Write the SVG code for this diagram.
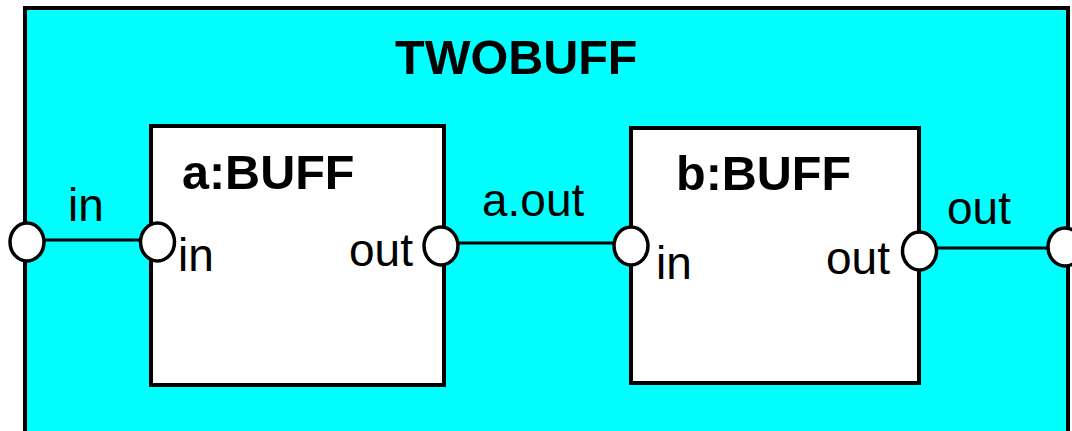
<svg xmlns="http://www.w3.org/2000/svg" width="1072" height="431" viewBox="0 0 1072 431">
<style>
.box{stroke:#000;stroke-width:4}
.port{fill:#fff;stroke:#000;stroke-width:3.5}
.wire{stroke:#000;stroke-width:3;fill:none}
.title{font-family:"Liberation Sans",Arial,sans-serif;font-weight:bold;font-size:48.5px;fill:#000}
.lbl{font-family:"Liberation Sans",Arial,sans-serif;font-size:46px;fill:#000}
</style>
<rect width="1072" height="431" fill="#fff"/>
<g id="TWOBUFF">
<rect class="box" x="25" y="8" width="1043" height="440" fill="#00ffff"/>
<text class="title" x="395" y="74">TWOBUFF</text>
</g>
<g id="a_BUFF">
<rect class="box" x="151" y="126" width="293" height="259" fill="#fff"/>
<text class="title" x="182" y="189">a:BUFF</text>
<text class="lbl" x="178" y="271">in</text>
<text class="lbl" x="349" y="266">out</text>
</g>
<g id="b_BUFF">
<rect class="box" x="631" y="128" width="288" height="255" fill="#fff"/>
<text class="title" x="676" y="190">b:BUFF</text>
<text class="lbl" x="656" y="279">in</text>
<text class="lbl" x="826" y="274">out</text>
</g>
<g id="connectors">
<line class="wire" x1="40" y1="240" x2="141" y2="240"/>
<line class="wire" x1="458" y1="243" x2="614" y2="243"/>
<line class="wire" x1="936" y1="248" x2="1048" y2="248"/>
<text class="lbl" x="68" y="221">in</text>
<text class="lbl" x="482" y="216">a.out</text>
<text class="lbl" x="947" y="224">out</text>
</g>
<g id="ports">
<ellipse class="port" cx="27" cy="242" rx="17" ry="19"/>
<ellipse class="port" cx="157.5" cy="242" rx="17" ry="19"/>
<ellipse class="port" cx="441" cy="246" rx="17" ry="19"/>
<ellipse class="port" cx="631" cy="246" rx="17" ry="19"/>
<ellipse class="port" cx="919.5" cy="251" rx="17" ry="19"/>
<ellipse class="port" cx="1065" cy="247" rx="17" ry="19"/>
</g>
</svg>
